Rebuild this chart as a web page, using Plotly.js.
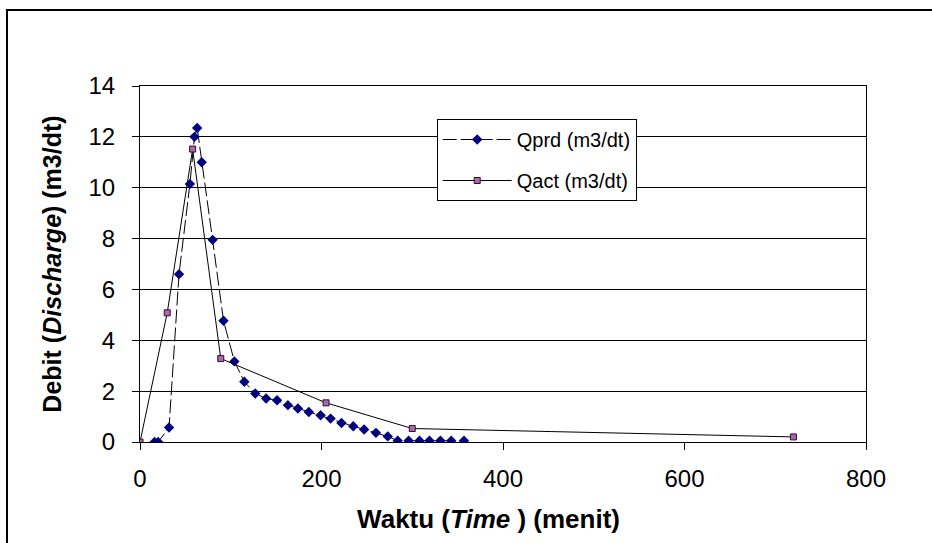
<!DOCTYPE html>
<html>
<head>
<meta charset="utf-8">
<script src="https://cdn.plot.ly/plotly-3.0.1.min.js"></script>
<style>
  html, body { margin: 0; padding: 0; background: #fff; }
  #wrap { position: relative; width: 932px; height: 543px; overflow: hidden; }
  #chart { position: absolute; left: 0; top: 0; width: 932px; height: 543px; }
  #frame { position: absolute; left: 6px; top: 9px; width: 1000px; height: 600px;
           border-left: 2px solid #000; border-top: 2px solid #000; pointer-events: none; }
</style>
</head>
<body>
<div id="wrap">
  <div id="chart"></div>
  <div id="frame"></div>
</div>
<script>
// Qprd (predicted discharge), time in minutes
const qprdTime = [16, 20, 32, 43, 55, 60, 63, 68, 80, 92, 104, 115, 127, 139, 151, 163, 174, 186, 199, 210, 222, 235, 247, 260, 273, 284, 296, 308, 319, 331, 343, 357];
const qprdValue = [0.0, 0.0, 0.57, 6.6, 10.15, 12.0, 12.35, 11.0, 7.95, 4.77, 3.17, 2.37, 1.91, 1.71, 1.64, 1.45, 1.32, 1.18, 1.05, 0.92, 0.75, 0.62, 0.49, 0.36, 0.22, 0.05, 0.05, 0.05, 0.05, 0.05, 0.05, 0.05];

// Qact (actual discharge)
const qactTime = [0, 30, 58, 89, 205, 300, 720];
const qactValue = [0.0, 5.08, 11.52, 3.28, 1.54, 0.53, 0.2];

const seriesNames = ['Qprd (m3/dt)', 'Qact (m3/dt)'];
const xTitle = 'Waktu (<i>Time</i> ) (menit)&nbsp;&nbsp;&nbsp;&nbsp;';
const yTitle = 'Debit (<i>Discharge</i>) (m3/dt)';

const FONT = 'Liberation Sans, Arial, sans-serif';

const traces = [
  {
    x: qprdTime, y: qprdValue, name: seriesNames[0], type: 'scatter', mode: 'lines+markers',
    legendgroup: 'a',
    line: { color: '#000000', width: 1, dash: '14px,4px' },
    marker: { symbol: 'diamond', size: 8, color: '#000080', line: { color: '#000080', width: 0 } }
  },
  {
    x: qactTime, y: qactValue, name: seriesNames[1], type: 'scatter', mode: 'lines+markers',
    legendgroup: 'b',
    line: { color: '#000000', width: 1 },
    marker: { symbol: 'square', size: 6, color: '#a070a0', line: { color: '#400040', width: 1 } }
  }
];

const layout = {
  width: 932, height: 543,
  margin: { l: 140, r: 66, t: 86, b: 101, pad: 0 },
  paper_bgcolor: '#ffffff', plot_bgcolor: '#ffffff',
  font: { family: FONT, color: '#000000', size: 24 },
  showlegend: true,
  legend: {
    x: 0.4087, y: 0.9073, xanchor: 'left', yanchor: 'top',
    bgcolor: '#ffffff', bordercolor: '#000000', borderwidth: 1,
    font: { family: FONT, size: 20, color: '#000000' },
    traceorder: 'grouped', tracegroupgap: 12, itemwidth: 69
  },
  xaxis: {
    range: [0, 800], dtick: 200, tick0: 0,
    showgrid: false, zeroline: false,
    showline: true, linecolor: '#000000', linewidth: 1, mirror: true,
    ticks: 'outside', ticklen: 7, tickwidth: 1, tickcolor: '#000000',
    ticklabelstandoff: 8,
    tickfont: { family: FONT, size: 24, color: '#000000' },
    title: { text: xTitle, font: { family: FONT, size: 26, color: '#000000', weight: 'bold' }, standoff: 19 }
  },
  yaxis: {
    range: [0, 14], dtick: 2, tick0: 0,
    showgrid: true, gridcolor: '#000000', gridwidth: 1,
    zeroline: false,
    showline: true, linecolor: '#000000', linewidth: 1, mirror: true,
    ticks: 'outside', ticklen: 7, tickwidth: 1, tickcolor: '#000000',
    ticklabelstandoff: 12,
    tickfont: { family: FONT, size: 24, color: '#000000' },
    title: { text: yTitle, font: { family: FONT, size: 25, color: '#000000', weight: 'bold' }, standoff: 19 }
  }
};

Plotly.newPlot('chart', traces, layout, { staticPlot: true, displayModeBar: false });
</script>
</body>
</html>
